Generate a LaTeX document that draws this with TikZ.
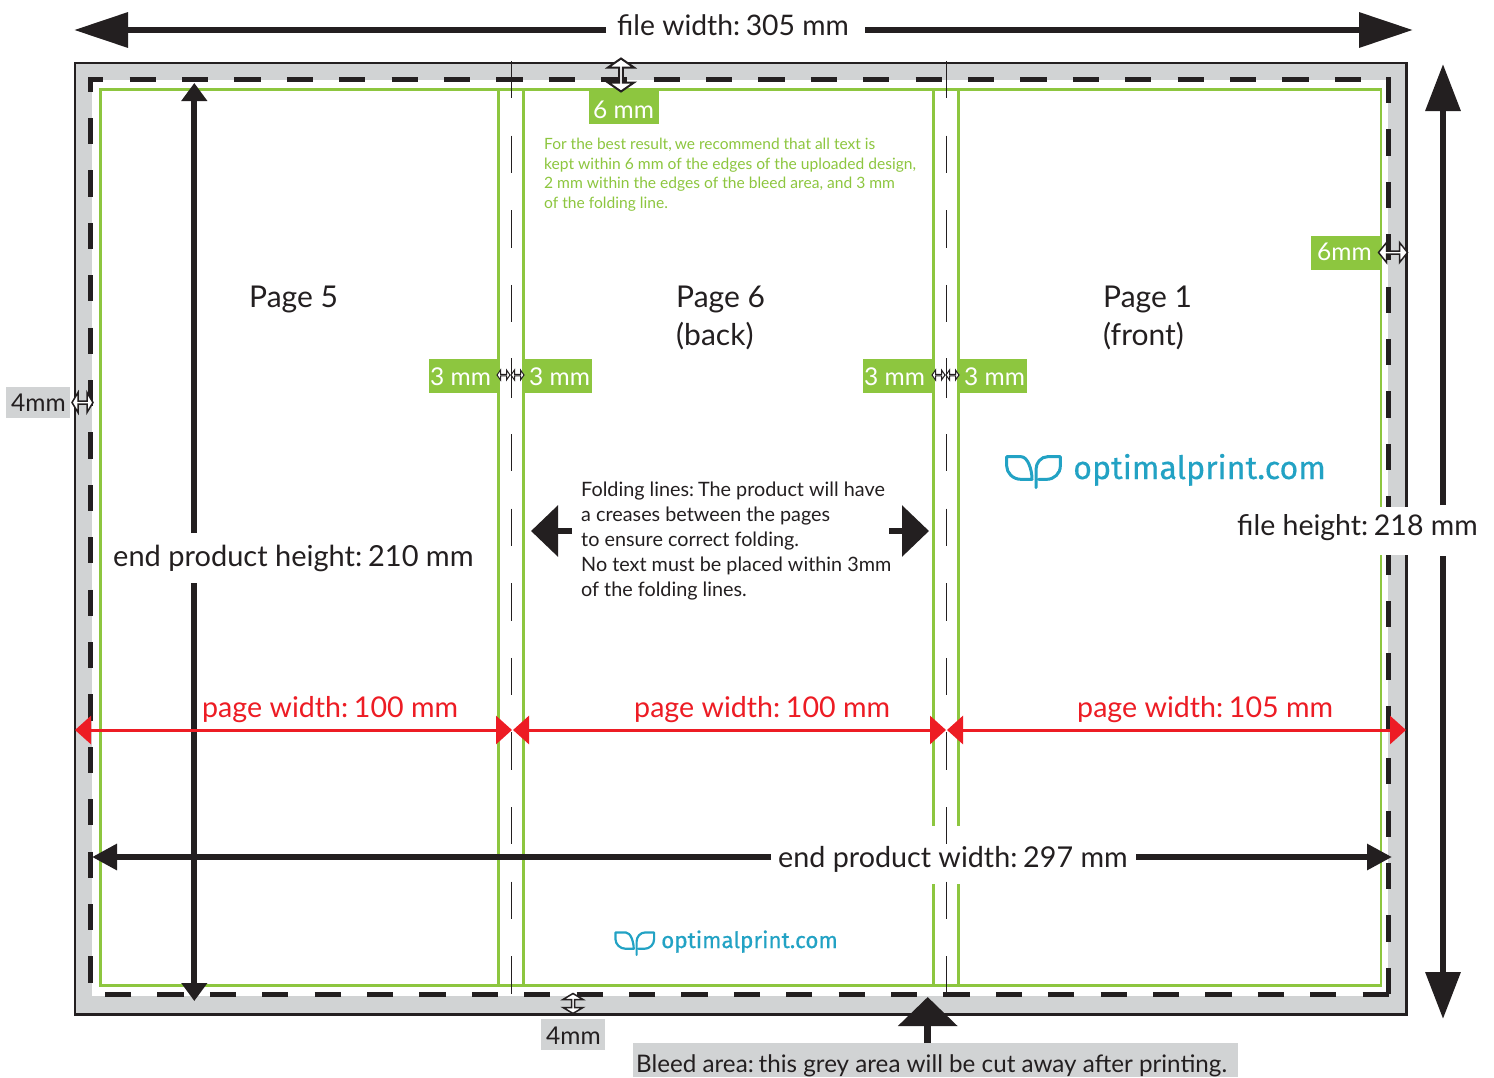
\documentclass[tikz,border=0pt]{standalone}
\usepackage{fontspec}
\setmainfont{Lato}
\newfontfamily\logofont[FakeBold=0.4]{Fira Sans}
\usetikzlibrary{arrows.meta}
\definecolor{inkb}{HTML}{231F20}
\definecolor{bleedgrey}{HTML}{D1D3D4}
\definecolor{safegreen}{HTML}{8DC63F}
\definecolor{pagered}{HTML}{ED1C24}
\definecolor{logoblue}{HTML}{22A2C4}
\newcommand{\fs}[1]{\fontsize{#1}{#1}\selectfont}
\newcommand{\cs}{\hspace{0.2em}}
\newcommand{\dbl}[6]{\filldraw[inkb,fill=white,line width=#6pt,line join=miter,shift={(#1)},rotate=#2]
  (-#3,0) -- (-#3+#4,-#5) -- (-#3+#4,-#5*0.15) -- (#3-#4,-#5*0.15) -- (#3-#4,-#5) -- (#3,0)
  -- (#3-#4,#5) -- (#3-#4,#5*0.15) -- (-#3+#4,#5*0.15) -- (-#3+#4,#5) -- cycle;}
\newcommand{\logoicon}[3]{\begin{scope}[shift={(#1)},scale=#2,draw=logoblue,line width=#3pt,line cap=round,line join=round]
  \draw (2,2) -- (45,2) .. controls (65,2) and (78,40) .. (78,70) -- (45,70) .. controls (20,70) and (2,50) .. (2,30) -- cycle;
  \draw (90,95) -- (90,40) .. controls (90,20) and (105,2) .. (125,2) -- (163,2) -- (163,30) .. controls (163,52) and (145,70) .. (122,70) -- (98,70);
\end{scope}}
\tikzset{
  bigarrow/.style={inkb,line width=#1pt},
  redarrow/.style={pagered,line width=3pt,-{Triangle[length=16pt,width=28pt]}},
  txt/.style={anchor=base west,inner sep=0pt,text=inkb},
  redtxt/.style={anchor=base west,inner sep=0pt,text=pagered},
  whitetxt/.style={anchor=base west,inner sep=0pt,text=white},
  greentxt/.style={anchor=base west,inner sep=0pt,text=safegreen},
  greenbox/.style={fill=safegreen,draw=none,inner sep=0pt},
  greybox/.style={fill=bleedgrey,draw=none,inner sep=0pt},
  greenline/.style={safegreen,line width=2.8pt},
  dashside/.style={inkb,line width=5pt,dash pattern=on 26.2pt off 26.2pt,dash phase=#1pt},
  foldline/.style={inkb,line width=1.8pt,dash pattern=on 37.3pt off 37.3pt},
}
\begin{document}
\begin{tikzpicture}[x=1pt,y=-1pt]
\useasboundingbox (0,0) rectangle (1494,1077);
% bleed
\fill[bleedgrey] (75,63) rectangle (1406.5,1014.5);
\fill[white] (92,80) rectangle (1388,996);
\draw[greenline] (100.5,89.5) rectangle (1381,985.5);
\draw[greenline] (498.8,89) -- (498.8,985.5);
\draw[greenline] (523.8,89) -- (523.8,985.5);
\draw[greenline] (933.4,89) -- (933.4,825.5);
\draw[greenline] (958.4,89) -- (958.4,825.5);
\draw[greenline] (933.4,884) -- (933.4,985.5);
\draw[greenline] (958.4,884) -- (958.4,985.5);
\draw[inkb,line width=2.5pt] (75,63) rectangle (1406.5,1014.5);
% dashed trim line
\draw[dashside=10.8] (88,79.5) -- (1362,79.5);
\draw[dashside=11.4] (90.5,77) -- (90.5,983);
\draw[dashside=0] (1388.5,77) -- (1388.5,996);
\draw[dashside=0] (105,994.5) -- (1391,994.5);
% white gap of the file height label
\fill[white] (1237,507) rectangle (1477,555);
% folding lines
\draw[foldline] (511.5,61) -- (511.5,995);
\draw[foldline] (946.5,61) -- (946.5,995);
% green labels
\node[greenbox,minimum width=70pt,minimum height=36pt] (b6top) at (624,106) {};
\node[greenbox,minimum width=70pt,minimum height=34pt] (b3a) at (464,376) {};
\node[greenbox,minimum width=70pt,minimum height=34pt] (b3b) at (557,376) {};
\node[greenbox,minimum width=70pt,minimum height=34pt] (b3c) at (898,376) {};
\node[greenbox,minimum width=69pt,minimum height=34pt] (b3d) at (992.5,376) {};
\node[greenbox,minimum width=70pt,minimum height=34pt] (b6r) at (1346,253) {};
\node[greybox,minimum width=64pt,minimum height=31pt] (b4l) at (38,402.5) {};
\node[greybox,minimum width=64pt,minimum height=31pt] (b4b) at (573,1034.5) {};
\node[greybox,minimum width=605pt,minimum height=34pt] (bbleed) at (935.5,1060) {};
\node[whitetxt] (t6top) at (593,118) {\fs{24.5}6 mm};
\node[whitetxt] (t3a) at (430,385) {\fs{24.5}3 mm};
\node[whitetxt] (t3b) at (529,385) {\fs{24.5}3 mm};
\node[whitetxt] (t3c) at (864,385) {\fs{24.5}3 mm};
\node[whitetxt] (t3d) at (964,385) {\fs{24.5}3 mm};
\node[whitetxt] (t6r) at (1317,260) {\fs{24.5}6mm};
\node[txt] (t4l) at (11,411) {\fs{24.5}4mm};
\node[txt] (t4b) at (546,1044) {\fs{24.5}4mm};
% small double arrows
\dbl{621,75}{90}{16.5}{9}{13}{2}
\dbl{1393,252.5}{0}{14.5}{8}{10}{1.5}
\dbl{82.5,402.5}{0}{10.5}{6}{10}{1.5}
\dbl{573,1003.5}{90}{10}{6}{10}{1.5}
\dbl{503.5,375}{0}{6.5}{3.5}{5}{1}
\dbl{517.5,375}{0}{6.5}{3.5}{5}{1}
\dbl{938.5,375}{0}{6.5}{3.5}{5}{1}
\dbl{952.5,375}{0}{6.5}{3.5}{5}{1}
\draw[inkb,line width=1.5pt] (511.5,358) -- (511.5,398);
\draw[inkb,line width=1.5pt] (946.5,358) -- (946.5,398);
% dimension labels
\node[txt] (fw) at (617,35) {\fs{28.3}file width:\cs 305 mm};
\node[txt] (fh) at (1237,535) {\fs{28.5}file height:\cs 218 mm};
\node[txt] (eph) at (113,566) {\fs{29}end product height:\cs 210 mm};
\node[txt] (epw) at (778,867) {\fs{28.7}end product width:\cs 297 mm};
% dimension arrows
\coordinate (fwL) at (74,30);  \coordinate (fwLa) at (606,30);
\coordinate (fwR) at (1413,30); \coordinate (fwRa) at (865,30);
\draw[bigarrow=6.5,-{Triangle[length=54pt,width=34pt]}] (fwLa) -- (fwL);
\draw[bigarrow=6.5,-{Triangle[length=54pt,width=34pt]}] (fwRa) -- (fwR);
\coordinate (fhT) at (1443,64);  \coordinate (fhTa) at (1443,505);
\coordinate (fhB) at (1443,1019); \coordinate (fhBa) at (1443,556);
\draw[bigarrow=6.5,-{Triangle[length=47pt,width=34pt]}] (fhTa) -- (fhT);
\draw[bigarrow=6.5,-{Triangle[length=47pt,width=34pt]}] (fhBa) -- (fhB);
\coordinate (ephT) at (194.3,83);  \coordinate (ephTa) at (194.3,533);
\coordinate (ephB) at (194.3,1001); \coordinate (ephBa) at (194.3,583);
\draw[bigarrow=5.7,-{Triangle[length=18pt,width=25pt]}] (ephTa) -- (ephT);
\draw[bigarrow=5.7,-{Triangle[length=18pt,width=25pt]}] (ephBa) -- (ephB);
\coordinate (epwL) at (92,857);  \coordinate (epwLa) at (771,857);
\coordinate (epwR) at (1392,857); \coordinate (epwRa) at (1136,857);
\draw[bigarrow=6,-{Triangle[length=25pt,width=25pt]}] (epwLa) -- (epwL);
\draw[bigarrow=6,-{Triangle[length=25pt,width=25pt]}] (epwRa) -- (epwR);
% red page widths
\coordinate (r1a) at (75,730); \coordinate (r1b) at (512,730);
\coordinate (r2a) at (513,730); \coordinate (r2b) at (946,730);
\coordinate (r3a) at (947,730); \coordinate (r3b) at (1406,730);
\draw[redarrow] (r1b) ++(-215,0) coordinate (r1m) -- (r1a);
\draw[redarrow] (r1m) -- (r1b);
\draw[redarrow] (r2b) ++(-215,0) coordinate (r2m) -- (r2a);
\draw[redarrow] (r2m) -- (r2b);
\draw[redarrow] (r3b) ++(-230,0) coordinate (r3m) -- (r3a);
\draw[redarrow] (r3m) -- (r3b);
\node[redtxt] (p1) at (202,717) {\fs{28.6}page width:\cs 100 mm};
\node[redtxt] (p2) at (634,717) {\fs{28.6}page width:\cs 100 mm};
\node[redtxt] (p3) at (1077,717) {\fs{28.6}page width:\cs 105 mm};
% pages
\node[txt] (pg5) at (249,307) {\fs{30}Page 5};
\node[txt] (pg6) at (676,307) {\fs{30}Page 6};
\node[txt] (pg6b) at (676,345) {\fs{30}(back)};
\node[txt] (pg1) at (1103,307) {\fs{30}Page 1};
\node[txt] (pg1b) at (1103,345) {\fs{30}(front)};
% notice
\node[greentxt] (g1) at (544,149) {\fs{15.5}For the best result,\cs we recommend that all text is};
\node[greentxt] (g2) at (544,169) {\fs{15.6}kept within 6 mm of the edges of the uploaded design,};
\node[greentxt] (g3) at (544,188) {\fs{15.6}2 mm within the edges of the bleed area, and 3 mm};
\node[greentxt] (g4) at (544,208) {\fs{15.6}of the folding line.};
% folding note
\node[txt] (f1) at (581,496) {\fs{19.8}Folding lines:\cs The product will have};
\node[txt] (f2) at (581,521) {\fs{19.8}a creases between the pages};
\node[txt] (f3) at (581,546) {\fs{19.8}to ensure correct folding.};
\node[txt] (f4) at (581,571) {\fs{19.8}No text must be placed within 3mm};
\node[txt] (f5) at (581,596) {\fs{19.8}of the folding lines.};
\coordinate (fdL) at (531,531); \coordinate (fdLa) at (572,531);
\coordinate (fdR) at (929,531); \coordinate (fdRa) at (889,531);
\draw[bigarrow=6.5,-{Triangle[length=27pt,width=50pt]}] (fdLa) -- (fdL);
\draw[bigarrow=6.5,-{Triangle[length=27pt,width=50pt]}] (fdRa) -- (fdR);
% logos
\logoicon{1006,456}{0.3333}{3}
\node[anchor=base west,inner sep=0pt,text=logoblue] (logo1) at (1073,479) {\logofont\fs{32.2}optimalprint.com};
\logoicon{615,932}{0.24}{2.2}
\node[anchor=base west,inner sep=0pt,text=logoblue] (logo2) at (661,948) {\logofont\fs{22.5}optimalprint.com};
% bleed note
\node[txt] (bl) at (636,1072) {\fs{24.2}Bleed area:\cs this grey area will be cut away after printing.};
\coordinate (upT) at (927.7,997); \coordinate (upA) at (927.7,1043);
\draw[bigarrow=7,-{Triangle[length=29pt,width=58pt]}] (upA) -- (upT);
\end{tikzpicture}
\end{document}
